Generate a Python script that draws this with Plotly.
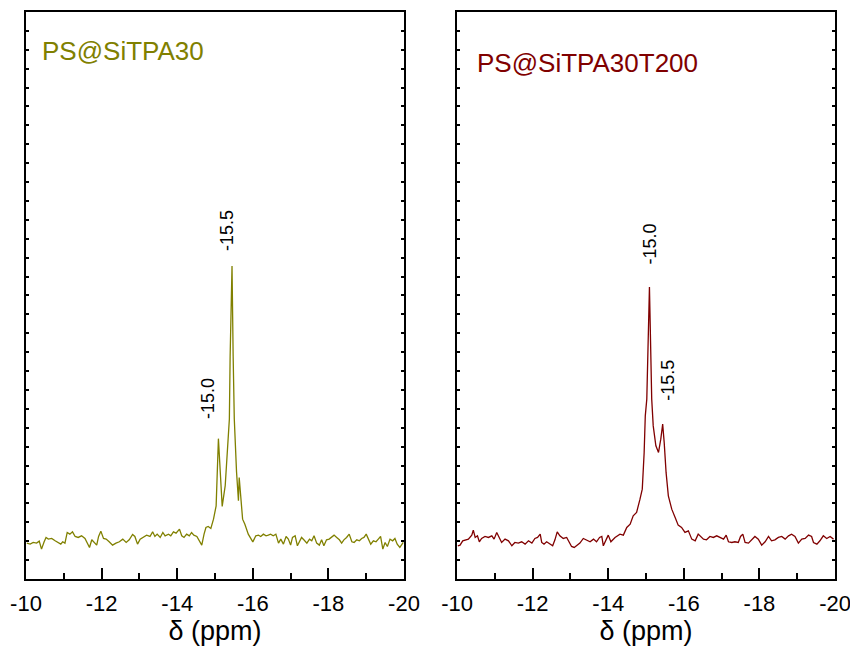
import plotly.graph_objects as go

# --- 29Si NMR spectra (chemical shift in ppm, intensity in a.u.) ---
shift_a = [
    -10.02, -10.11, -10.19, -10.28, -10.35, -10.41, -10.48, -10.53, -10.59, -10.68,
    -10.77, -10.86, -10.92, -10.97, -11.03, -11.09, -11.16, -11.23, -11.30, -11.38,
    -11.47, -11.56, -11.62, -11.68, -11.74, -11.80, -11.87, -11.92, -11.98, -12.05,
    -12.12, -12.20, -12.29, -12.38, -12.47, -12.56, -12.65, -12.73, -12.82, -12.88,
    -12.95, -13.02, -13.10, -13.19, -13.28, -13.35, -13.41, -13.47, -13.55, -13.62,
    -13.68, -13.77, -13.83, -13.90, -13.97, -14.06, -14.12, -14.18, -14.25, -14.32,
    -14.38, -14.44, -14.52, -14.59, -14.65, -14.71, -14.76, -14.82, -14.89, -14.96,
    -15.03, -15.09, -15.13, -15.19, -15.27, -15.34, -15.38, -15.40, -15.45, -15.48,
    -15.51, -15.57, -15.62, -15.64, -15.68, -15.73, -15.79, -15.88, -16.00,
    -16.08, -16.15, -16.21, -16.28, -16.35, -16.41, -16.47, -16.54, -16.61, -16.68,
    -16.74, -16.81, -16.88, -16.94, -17.00, -17.05, -17.12, -17.18, -17.23, -17.29,
    -17.35, -17.43, -17.50, -17.56, -17.62, -17.69, -17.76, -17.82, -17.88, -17.95,
    -18.02, -18.09, -18.15, -18.22, -18.29, -18.35, -18.41, -18.48, -18.55, -18.62,
    -18.68, -18.75, -18.82, -18.88, -18.94, -19.00, -19.06, -19.12, -19.19, -19.26,
    -19.32, -19.38, -19.44, -19.50, -19.56, -19.63, -19.70, -19.76, -19.82, -19.89,
    -19.98,
]
intensity_a = [
    -0.35, -0.71, -0.12, -0.35, 0.35, -2.47, 0.12, 1.65, 1.06, 1.29,
    0.47, -0.12, -0.71, 0.12, -0.35, 3.41, 2.82, 3.64, 2.00, 1.65,
    2.23, 1.29, -0.35, -1.88, 0.82, -0.12, -1.06, 2.00, 3.88, 1.29,
    1.06, 0.12, -1.06, -0.35, 0.12, 1.06, -0.12, 0.82, 2.70, 2.00,
    -0.71, 1.06, 1.65, 2.47, 2.00, 3.64, 2.00, 2.82, 1.65, 3.41,
    2.23, 2.82, 2.23, 3.64, 3.17, 4.59, 2.23, 1.65, 2.82, 2.23,
    3.41, 2.47, 2.00, 0.47, -1.06, 2.82, 5.17, 5.53, 4.82, 8.11,
    12.8, 36.5, 25.7, 12.6, 19.9, 37.5, 43.4, 65.6, 97.4, 65.6,
    43.4, 24.7, 14.6, 22.8, 15.2, 8.1, 6.3, 2.8, 0.1,
    2.23, 2.47, 2.00, 2.82, 2.23, 2.47, 2.82, 2.23, 2.82, -0.35,
    1.06, -0.71, 2.00, 1.06, -1.06, 1.65, 2.23, -1.29, -0.12, 1.65,
    0.82, -0.35, 1.06, 0.47, 2.23, -0.35, -1.06, 0.82, -1.29, 0.82,
    1.06, 2.00, 2.47, 1.65, 0.82, -0.35, 0.82, 1.65, 2.82, 0.12,
    -0.12, 0.82, 0.47, 1.29, 1.65, 2.82, 1.06, -0.71, 0.47, 0.12,
    1.06, 2.00, -2.47, -0.12, -1.53, 1.06, 0.47, 1.29, -0.71, -1.88,
    -0.12,
]

shift_b = [
    -10.02, -10.08, -10.15, -10.21, -10.30, -10.39, -10.43, -10.48, -10.54, -10.59,
    -10.65, -10.74, -10.83, -10.92, -10.98, -11.05, -11.12, -11.18, -11.27, -11.36,
    -11.45, -11.53, -11.62, -11.71, -11.80, -11.89, -11.98, -12.06, -12.13, -12.20,
    -12.24, -12.30, -12.37, -12.46, -12.53, -12.59, -12.65, -12.72, -12.81, -12.90,
    -12.97, -13.03, -13.10, -13.17, -13.25, -13.34, -13.43, -13.52, -13.61, -13.69,
    -13.77, -13.83, -13.87, -13.94, -14.00, -14.07, -14.14,
    -14.18, -14.31, -14.40, -14.49, -14.58, -14.66, -14.75, -14.84, -14.90, -14.95,
    -14.98, -15.02, -15.09, -15.15, -15.19, -15.26, -15.33, -15.39, -15.44, -15.48,
    -15.53, -15.59, -15.68, -15.77, -15.85, -15.94, -16.03, -16.12, -16.21, -16.30,
    -16.38, -16.52, -16.60, -16.69, -16.78, -16.87, -16.96, -17.05, -17.12, -17.18,
    -17.27, -17.35, -17.44, -17.50, -17.56, -17.62, -17.71, -17.80, -17.88, -17.97,
    -18.06, -18.15, -18.24, -18.32, -18.41, -18.50, -18.59, -18.68, -18.77, -18.85,
    -18.94, -19.03, -19.12, -19.21, -19.30, -19.38, -19.43, -19.52, -19.60, -19.69,
    -19.78, -19.87, -19.96,
]
intensity_b = [
    -1.29, -1.06, 0.47, 0.82, 1.06, 2.47, 4.23, 1.65, 2.23, 0.12,
    1.29, 2.00, 1.65, 2.23, 1.06, 3.41, 1.29, -0.12, 1.06, 0.47,
    -1.29, -0.12, -0.35, 0.12, -0.71, 0.47, -0.35, 1.29, 1.65, 2.82,
    -0.12, -0.71, 0.12, -0.71, -1.29, 0.82, 3.64, 2.23, 1.29, 1.65,
    -0.12, -1.53, -1.88, -1.06, -0.35, 1.29, 0.82, 0.12, 1.06, 0.12,
    1.65, 2.00, -1.29, 1.06, 2.47, 0.12, 1.29,
    1.66, 2.82, 2.47, 5.19, 6.35, 9.28, 10.48, 15.17, 18.69, 31.64,
    44.55, 50.44, 89.95, 50.44, 41.0, 33.97, 31.64, 36.33, 41.62, 35.17,
    24.59, 16.33, 11.64, 8.71, 6.00, 5.19, 3.42, 3.99, 1.06, 0.46,
    2.82, 1.06, 0.82, 2.00, 1.65, 2.23, 1.65, 1.06, 2.47, 0.12,
    -0.12, 0.12, -0.12, 2.00, 2.82, -0.12, -0.35, 1.06, 2.00, 1.06,
    -1.06, 0.12, 2.00, 0.47, 0.82, 1.65, 2.00, 1.06, 2.23, 2.82,
    2.00, -0.35, 1.06, 1.29, 2.47, 2.00, -0.12, -0.71, 0.47, 2.23,
    1.29, 2.00, 1.06,
]

# peak assignments: (shift of the marked peak, height of that peak, printed label)
peaks_a = [(-15.45, 97.4, "-15.5"), (-15.09, 36.5, "-15.0")]
peaks_b = [(-15.09, 89.95, "-15.0"), (-15.44, 41.62, "-15.5")]

names = ["PS@SiTPA30", "PS@SiTPA30T200"]
colors = ["#808000", "#800000"]

x_range = [-10, -20]
x_ticks = [-10, -12, -14, -16, -18, -20]
y_range = [-13, 187]

FONT = "Liberation Sans, Arial, sans-serif"

fig = go.Figure()
fig.add_trace(go.Scatter(x=shift_a, y=intensity_a, mode="lines",
                         line=dict(color=colors[0], width=1.3),
                         xaxis="x", yaxis="y", showlegend=False))
fig.add_trace(go.Scatter(x=shift_b, y=intensity_b, mode="lines",
                         line=dict(color=colors[1], width=1.3),
                         xaxis="x2", yaxis="y2", showlegend=False))

y_dom = [0.1065, 0.9815]
x_doms = [[0.0306, 0.4753], [0.5377, 0.9824]]

xaxis_common = dict(
    range=x_range, tickvals=x_ticks, ticktext=[str(t) for t in x_ticks],
    ticks="inside", ticklen=11, tickwidth=2, tickcolor="black",
    minor=dict(dtick=1, tick0=-11, ticks="inside", ticklen=6, tickwidth=2, tickcolor="black"),
    showline=True, linewidth=2, linecolor="black", mirror=True,
    showgrid=False, zeroline=False, automargin=False,
    tickfont=dict(family=FONT, size=22, color="black"),
    ticklabelstandoff=4, ticklabeloverflow="allow",
    title=dict(text="δ (ppm)", font=dict(family=FONT, size=27, color="black"), standoff=6),
)
yaxis_common = dict(
    range=y_range, tick0=-13, dtick=200 / 30,
    ticks="inside", ticklen=3, tickwidth=1.5, tickcolor="black",
    showticklabels=False, showline=True, linewidth=2, linecolor="black",
    mirror="ticks", showgrid=False, zeroline=False, automargin=False,
)

fig.update_layout(
    width=850, height=648,
    margin=dict(l=0, r=0, t=0, b=0, autoexpand=False),
    paper_bgcolor="white", plot_bgcolor="white",
    xaxis=dict(domain=x_doms[0], anchor="y", **xaxis_common),
    yaxis=dict(domain=y_dom, anchor="x", **yaxis_common),
    xaxis2=dict(domain=x_doms[1], anchor="y2", **xaxis_common),
    yaxis2=dict(domain=y_dom, anchor="x2", **yaxis_common),
)

# sample names in the upper-left corner of each panel
fig.add_annotation(text=names[0], xref="paper", yref="paper", x=40 / 850, y=1 - 51 / 648,
                   xanchor="left", yanchor="middle", showarrow=False,
                   font=dict(family=FONT, size=26, color=colors[0]))
fig.add_annotation(text=names[1], xref="paper", yref="paper", x=475 / 850, y=1 - 63 / 648,
                   xanchor="left", yanchor="middle", showarrow=False,
                   font=dict(family=FONT, size=26, color=colors[1]))

# rotated peak labels
label_offsets_a = [(-5, 35), (-11, 40)]
label_offsets_b = [(1, 43), (5, 44)]
for (xr, yr), peaks, offs in (("x", "y"), peaks_a, label_offsets_a), (("x2", "y2"), peaks_b, label_offsets_b):
    for (px, py, txt), (dx, dy) in zip(peaks, offs):
        fig.add_annotation(text=txt, x=px, y=py, xref=xr, yref=yr, showarrow=False,
                           textangle=-90, xanchor="center", yanchor="middle",
                           xshift=dx, yshift=dy,
                           font=dict(family=FONT, size=18, color="black"))

fig.write_html("out.html")
